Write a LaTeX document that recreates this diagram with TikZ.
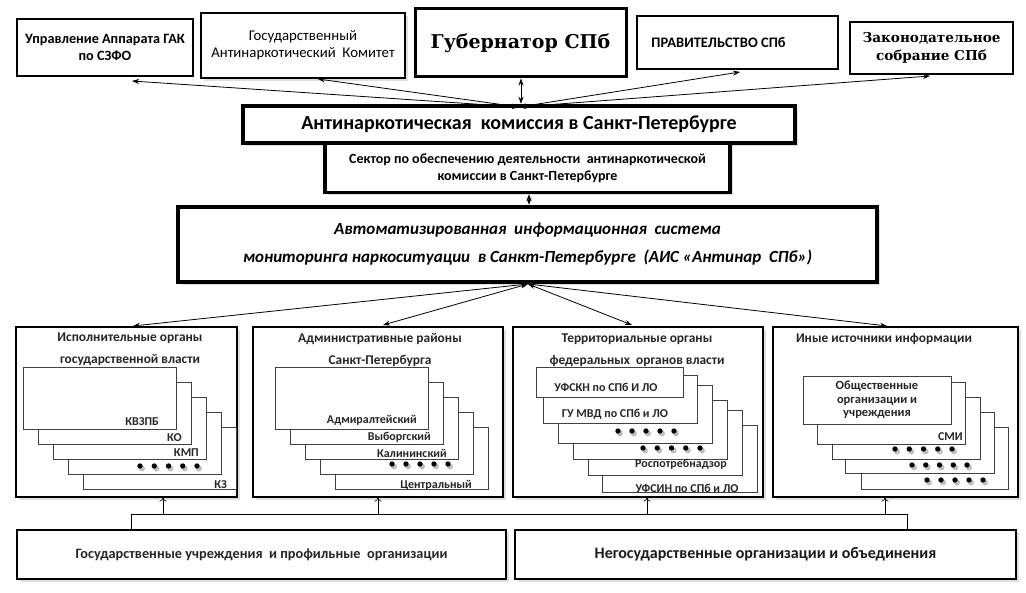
\documentclass[tikz,border=0pt]{standalone}
\usepackage{fontspec}
\setmainfont{Carlito}
\newfontfamily\gubfont{DejaVu Serif}
\usetikzlibrary{shadows,arrows.meta,calc}
\tikzset{
  box/.style={draw=black, line width=1.4pt, fill=white, align=center, inner sep=0pt},
  sh/.style={drop shadow={shadow xshift=3pt, shadow yshift=-3pt, opacity=0.25}},
  thickbox/.style={box, line width=4pt},
  card/.style={draw=black!75, line width=0.7pt, fill=white, inner sep=0pt},
  lbl/.style={inner sep=0pt, font=\bfseries\fontsize{12}{14}\selectfont, text=black!85},
  ttl/.style={inner sep=0pt, font=\bfseries\fontsize{13.4}{15}\selectfont, text=black!85},
  dblarr/.style={line width=0.8pt, {Stealth[length=7pt,width=5pt]}-{Stealth[length=7pt,width=5pt]}},
  uparr/.style={line width=0.6pt, -{To[length=4pt,width=7pt]}},
  conn/.style={line width=0.6pt},
}
\newcommand{\dotrow}[3]{%
  \foreach \i in {0,...,4}{%
    \fill[black!25] ({#1+\i*(#2-#1)/4+2},{#3+2.5}) circle (3pt);
    \fill[black] ({#1+\i*(#2-#1)/4},#3) circle (2.7pt);
  }}
\begin{document}
\begin{tikzpicture}[x=1pt,y=-1pt]
\useasboundingbox (0,0) rectangle (1026,593);
\fill[white] (0,0) rectangle (1026,593);

% ---- top row ----
\node[box, minimum width=176pt, minimum height=57pt, font=\bfseries\fontsize{14.2}{17}\selectfont] (gak) at (105,47.5) {Управление Аппарата ГАК\\по СЗФО};
\node[box, sh, minimum width=204pt, minimum height=65pt, font=\fontsize{14.8}{17}\selectfont] (gakom) at (303,45.5) {Государственный\\Антинаркотический\ \ Комитет};
\node[box, line width=3pt, minimum width=211pt, minimum height=68pt, font=\gubfont\bfseries\fontsize{19}{22}\selectfont] (gub) at (520.5,43) {Губернатор СПб};
\node[box, minimum width=201pt, minimum height=53pt, font=\bfseries\fontsize{14.5}{15}\selectfont] (prav) at (737.5,42.5) {\hspace*{-38pt}ПРАВИТЕЛЬСТВО СПб};
\node[box, minimum width=163pt, minimum height=52pt, font=\gubfont\bfseries\fontsize{13.6}{18}\selectfont] (zak) at (931.5,48) {Законодательное\\собрание СПб};

% ---- commission ----
\node[thickbox, line width=4.5pt, sh, minimum width=552pt, minimum height=37pt, font=\bfseries\fontsize{20}{22}\selectfont] (comm) at (519,124.5) {Антинаркотическая\ \ комиссия в Санкт-Петербурге};
\node[thickbox, line width=3.5pt, sh, minimum width=405pt, minimum height=49pt, font=\bfseries\fontsize{14}{17}\selectfont] (sect) at (527.5,168) {Сектор по обеспечению деятельности\ \ антинаркотической\\комиссии в Санкт-Петербурге};
\node[thickbox, line width=4.5pt, sh, minimum width=699pt, minimum height=75pt, font=\bfseries\itshape\fontsize{17}{20}\selectfont] (ais) at (527.5,244.5) {Автоматизированная\ \ информационная\ \ система\\[8pt]мониторинга наркоситуации\ \ в Санкт-Петербурге\ \ (АИС «Антинар\ \ СПб»)};

% ---- top connectors ----
\coordinate (hub) at (519,107);
\coordinate (t1) at (132,81);
\coordinate (t2) at (318,79);
\coordinate (t4) at (740,72);
\coordinate (t5) at (930,76);
\draw[dblarr] (hub) -- (t1);
\draw[dblarr] (hub) -- (t2);
\draw[dblarr] (gub.south -| 521,0) -- (comm.north -| 521,0);
\draw[dblarr] (hub) -- (t4);
\draw[dblarr] (hub) -- (t5);
\draw[dblarr] (sect.south -| 529,0) -- (ais.north -| 529,0);

% ---- panels ----
\node[box, line width=1.2pt, sh, minimum width=221pt, minimum height=170pt] (panA) at (126.5,412) {};
\node[box, line width=1.2pt, sh, minimum width=250pt, minimum height=170pt] (panB) at (378,412) {};
\node[box, line width=1.2pt, sh, minimum width=250pt, minimum height=170pt] (panC) at (638,412) {};
\node[box, line width=1.2pt, sh, minimum width=245pt, minimum height=170pt] (panD) at (895.5,412) {};

% ---- AIS connectors ----
\coordinate (hub2) at (528,284);
\coordinate (p1) at (133,326);
\coordinate (p2) at (383,325);
\coordinate (p3) at (632,325);
\coordinate (p4) at (887,326);
\draw[dblarr] (hub2) -- (p1);
\draw[dblarr] (hub2) -- (p2);
\draw[dblarr] (hub2) -- (p3);
\draw[dblarr] (hub2) -- (p4);

% ---- panel A ----
\node[ttl] (tA1) at (130,338) {Исполнительные органы};
\node[ttl] (tA2) at (130,360) {государственной власти};
\foreach \k in {4,3,2,1,0}{
  \node[card, minimum width=153pt, minimum height=62pt] (cA\k) at ({99.5+15*\k},{398+15*\k}) {};
}
\node[lbl, anchor=east] (lA1) at (159,422) {КВЗПБ};
\node[lbl, anchor=east] (lA2) at (182,438) {КО};
\node[lbl, anchor=east] (lA3) at (199,453) {КМП};
\dotrow{140}{197}{466}
\node[lbl, anchor=east] (lA5) at (227,485) {КЗ};

% ---- panel B ----
\node[ttl] (tB1) at (380,339) {Административные районы};
\node[ttl] (tB2) at (380,361) {Санкт-Петербурга};
\foreach \k in {4,3,2,1,0}{
  \node[card, minimum width=153pt, minimum height=62pt] (cB\k) at ({351.5+15*\k},{398+15*\k}) {};
}
\node[lbl, anchor=east] (lB1) at (417,420) {Адмиралтейский};
\node[lbl, anchor=east] (lB2) at (431,437) {Выборгский};
\node[lbl, anchor=east] (lB3) at (447,453) {Калининский};
\dotrow{392}{448}{464}
\node[lbl, anchor=east] (lB5) at (472,485) {Центральный};

% ---- panel C ----
\node[ttl] (tC1) at (637,339) {Территориальные органы};
\node[ttl] (tC2) at (637,361) {федеральных\ \ органов власти};
\node[card, minimum width=155pt, minimum height=67pt] (cC6) at (679.5,458.5) {};
\node[card, minimum width=154pt, minimum height=65pt] (cC5) at (665,442.5) {};
\node[card, minimum width=154pt, minimum height=59pt] (cC4) at (650,429.5) {};
\node[card, minimum width=154pt, minimum height=58pt] (cC3) at (635,414) {};
\node[card, minimum width=154pt, minimum height=48pt] (cC2) at (620,399) {};
\node[card, minimum width=147pt, minimum height=30pt] (cC1) at (609.5,382) {};
\node[lbl] (lC1) at (606,387) {УФСКН по СПб И ЛО};
\node[lbl] (lC2) at (615,414) {ГУ МВД по СПб и ЛО};
\dotrow{618}{674}{431}
\dotrow{643}{700}{448}
\node[lbl] (lC5) at (681,464) {Роспотребнадзор};
\node[lbl] (lC6) at (687,488) {УФСИН по СПб и ЛО};

% ---- panel D ----
\node[ttl] (tD1) at (884,339) {Иные источники информации};
\node[card, minimum width=147pt, minimum height=62pt] (cD5) at (934.5,458) {};
\node[card, minimum width=149pt, minimum height=61pt] (cD4) at (919.5,442.5) {};
\node[card, minimum width=148pt, minimum height=62pt] (cD3) at (906,428) {};
\node[card, minimum width=148pt, minimum height=62pt] (cD2) at (891,413) {};
\node[card, minimum width=148pt, minimum height=48pt, align=center, font=\bfseries\fontsize{12.5}{13.5}\selectfont, text=black!85] (cD1) at (877,400) {Общественные\\организации и\\учреждения};
\node[lbl, anchor=east] (lD2) at (963,437) {СМИ};
\dotrow{895}{952}{449}
\dotrow{912}{967}{465}
\dotrow{927}{983}{480}

% ---- bottom ----
\node[box, sh, minimum width=489pt, minimum height=49pt, font=\bfseries\fontsize{14.3}{16}\selectfont, text=black!85] (botL) at (261.5,554.5) {Государственные учреждения\ \ и профильные\ \ организации};
\node[box, sh, minimum width=501pt, minimum height=49pt, font=\bfseries\fontsize{16}{18}\selectfont, text=black!90] (botR) at (765.5,554.5) {Негосударственные организации и объединения};

\coordinate (jl) at (131,514);
\coordinate (jr) at (907,514);
\draw[conn] (botL.north -| jl) -- (jl) -- (jr) -- (botR.north -| jr);
\coordinate (u1) at (163,514);
\coordinate (u2) at (378,514);
\coordinate (u3) at (647,514);
\coordinate (u4) at (885,514);
\draw[uparr] (u1) -- (u1 |- panA.south);
\draw[uparr] (u2) -- (u2 |- panB.south);
\draw[uparr] (u3) -- (u3 |- panC.south);
\draw[uparr] (u4) -- (u4 |- panD.south);
\end{tikzpicture}
\end{document}
